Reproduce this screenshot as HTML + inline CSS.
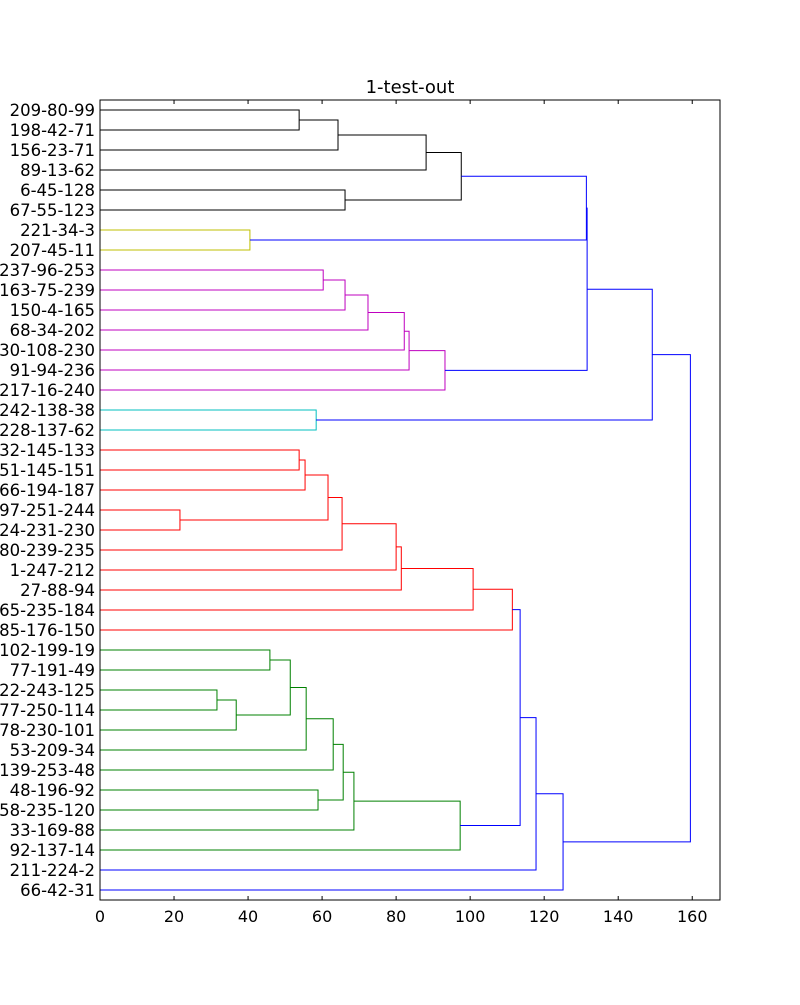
<!DOCTYPE html>
<html><head><meta charset="utf-8"><style>
html,body{margin:0;padding:0;background:#fff;}
svg text{font-family:"DejaVu Sans","Liberation Sans",sans-serif;}
</style></head><body>
<svg id="chart" width="800" height="1000" xmlns="http://www.w3.org/2000/svg">
<rect width="800" height="1000" fill="#fff"/>
<text x="410" y="93" font-size="18" text-anchor="middle">1-test-out</text>
<g id="links"></g>
<g id="labels"></g>
<g id="xaxis"></g>
<rect x="100" y="100" width="620" height="800" fill="none" stroke="#000" stroke-width="1"/>
</svg>
<script>
const leafLabels = ["209-80-99","198-42-71","156-23-71","89-13-62","6-45-128","67-55-123","221-34-3","207-45-11","237-96-253","163-75-239","150-4-165","68-34-202","30-108-230","91-94-236","217-16-240","242-138-38","228-137-62","32-145-133","51-145-151","66-194-187","97-251-244","24-231-230","80-239-235","1-247-212","27-88-94","65-235-184","85-176-150","102-199-19","77-191-49","22-243-125","77-250-114","78-230-101","53-209-34","139-253-48","48-196-92","58-235-120","33-169-88","92-137-14","211-224-2","66-42-31"];
const mergeLeft  = [0,40,41,4,42,6,44,8,47,48,49,50,51,46,15,53,17,56,20,57,59,60,61,62,63,27,29,66,65,68,69,34,70,72,73,64,75,76,55];
const mergeRight = [1,2,3,5,43,7,45,9,10,11,12,13,14,52,16,54,18,19,21,58,22,23,24,25,26,28,30,31,67,32,33,35,71,36,37,74,38,39,77];
const mergeHeight= [53.8,64.3,88.1,66.2,97.6,40.5,131.4,60.3,66.2,72.4,82.2,83.5,93.2,131.6,58.4,149.2,53.8,55.4,21.6,61.6,65.4,80,81.4,100.8,111.4,45.9,31.6,36.8,51.4,55.7,63,58.9,65.7,68.6,97.3,113.5,117.8,125.1,159.5];
const mergeColor = ["k","k","k","k","k","y","b","m","m","m","m","m","m","b","c","b","r","r","r","r","r","r","r","r","r","g","g","g","g","g","g","g","g","g","g","b","b","b","b"];
const xTicks = [0,20,40,60,80,100,120,140,160];

const colors={k:"#000000",y:"#bfbf00",m:"#bf00bf",c:"#00bfbf",r:"#ff0000",g:"#008000",b:"#0000ff"};
const X0=100,X1=720,XMAX=167.5;
const xs=v=>X0+v*(X1-X0)/XMAX;
const ys=i=>110+20*i;
const NS="http://www.w3.org/2000/svg";
const nodeY=[],nodeH=[];
leafLabels.forEach((l,i)=>{nodeY[i]=ys(i);nodeH[i]=0;});
const links=document.getElementById('links');
mergeLeft.forEach((a,k)=>{
  const b=mergeRight[k],h=mergeHeight[k],id=leafLabels.length+k;
  nodeY[id]=(nodeY[a]+nodeY[b])/2;nodeH[id]=h;
  const p=document.createElementNS(NS,'polyline');
  p.setAttribute('points',`${xs(nodeH[a])},${nodeY[a]} ${xs(h)},${nodeY[a]} ${xs(h)},${nodeY[b]} ${xs(nodeH[b])},${nodeY[b]}`);
  p.setAttribute('fill','none');p.setAttribute('stroke',colors[mergeColor[k]]);p.setAttribute('stroke-width','1');
  
  
  links.appendChild(p);
});
const lab=document.getElementById('labels');
leafLabels.forEach((l,i)=>{
  const t=document.createElementNS(NS,'text');
  t.setAttribute('x',95);t.setAttribute('y',ys(i)+6);t.setAttribute('font-size','16.5');t.setAttribute('text-anchor','end');
  t.textContent=l;
  
  
  lab.appendChild(t);
});
const ax=document.getElementById('xaxis');
xTicks.forEach(v=>{
  const x=xs(v);
  const l1=document.createElementNS(NS,'line');
  l1.setAttribute('x1',x);l1.setAttribute('x2',x);l1.setAttribute('y1',900);l1.setAttribute('y2',896);l1.setAttribute('stroke','#000');
  
  
  ax.appendChild(l1);
  const l2=document.createElementNS(NS,'line');
  l2.setAttribute('x1',x);l2.setAttribute('x2',x);l2.setAttribute('y1',100);l2.setAttribute('y2',104);l2.setAttribute('stroke','#000');
  
  
  ax.appendChild(l2);
  const t=document.createElementNS(NS,'text');
  t.setAttribute('x',x);t.setAttribute('y',922);t.setAttribute('font-size','16');t.setAttribute('text-anchor','middle');
  t.textContent=v;
  
  
  ax.appendChild(t);
});
</script>
</body></html>
